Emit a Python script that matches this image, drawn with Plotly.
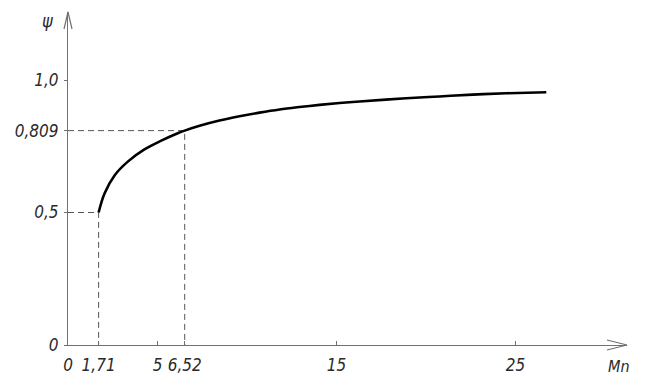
import plotly.graph_objects as go

# ---- data ----
mn = [1.71, 2.04, 2.60, 3.34, 4.27, 5.21, 6.13, 6.52, 7.4, 8.46, 9.58, 10.70, 11.82,
      12.93, 14.05, 15.17, 16.29, 18.89, 20.75, 22.61, 24.48, 26.72]
psi = [0.5, 0.572, 0.640, 0.692, 0.738, 0.771, 0.799, 0.809, 0.828, 0.847, 0.863, 0.877, 0.889,
       0.898, 0.906, 0.913, 0.919, 0.931, 0.938, 0.945, 0.950, 0.954]

x_ticks = [0, 1.71, 5, 6.52, 15, 25]
x_tick_labels = ["0", "1,71", "5", "6,52", "15", "25"]
y_ticks = [0, 0.5, 0.809, 1.0]
y_tick_labels = ["0", "0,5", "0,809", "1,0"]

ref_x = [1.71, 6.52]
ref_y = [0.5, 0.809]

# ---- layout geometry ----
W, H = 656, 386
ml, mr, mt, mb = 68, 29, 12, 41
pw, ph = W - ml - mr, H - mt - mb
x_scale = 17.9   # px per unit
y_scale = 265.0  # px per unit
x_max = pw / x_scale
y_max = ph / y_scale

font_fam = "DejaVu Sans Condensed, Liberation Sans Narrow, DejaVu Sans, sans-serif"
txt_col = "#2a2a2a"
axis_col = "#707070"

fig = go.Figure()

# dashed guide lines from the reference points
for rx, ry in zip(ref_x, ref_y):
    fig.add_trace(go.Scatter(x=[0, rx, rx], y=[ry, ry, 0], mode="lines",
                             line=dict(color="#555555", width=1, dash="6px,4px"),
                             hoverinfo="skip", showlegend=False))

fig.add_trace(go.Scatter(x=mn, y=psi, mode="lines",
                         line=dict(color="black", width=2.6, shape="spline", smoothing=1.0),
                         showlegend=False))

# arrowheads (paper coords, open chevrons)
ax_len, ax_w = 20, 5
shape_line = dict(color=axis_col, width=1.2)
shapes = [
    dict(type="path", xref="paper", yref="paper",
         path=f"M {1 - ax_len/pw},{ax_w/ph} L 1,0 L {1 - ax_len/pw},{-ax_w/ph}", line=shape_line),
    dict(type="path", xref="paper", yref="paper",
         path=f"M {-4/pw},{1 - 17/ph} L 0,1 L {4/pw},{1 - 17/ph}", line=shape_line),
]

annotations = [
    dict(x=-21/pw, y=1 - 8/ph, xref="paper", yref="paper", text="ψ", showarrow=False,
         xanchor="center", yanchor="middle",
         font=dict(family=font_fam, size=18, color=txt_col, style="italic")),
    dict(x=1 - 8/pw, y=-21/ph, xref="paper", yref="paper", text="Mn", showarrow=False,
         xanchor="center", yanchor="middle",
         font=dict(family=font_fam, size=16, color=txt_col, style="italic")),
]

fig.update_layout(
    width=W, height=H,
    margin=dict(l=ml, r=mr, t=mt, b=mb),
    paper_bgcolor="white", plot_bgcolor="white",
    shapes=shapes, annotations=annotations,
    xaxis=dict(range=[0, x_max], showgrid=False, zeroline=False, showline=True, linecolor=axis_col, linewidth=1.2,
               tickmode="array", tickvals=x_ticks, ticktext=x_tick_labels, ticks="inside", ticklen=4,
               tickcolor=axis_col, ticklabelstandoff=4,
               tickfont=dict(family=font_fam, size=17, color=txt_col, style="italic")),
    yaxis=dict(range=[0, y_max], showgrid=False, zeroline=False, showline=True, linecolor=axis_col, linewidth=1.2,
               tickmode="array", tickvals=y_ticks, ticktext=y_tick_labels, ticks="outside", ticklen=3,
               tickcolor=axis_col, ticklabelstandoff=2,
               tickfont=dict(family=font_fam, size=17, color=txt_col, style="italic")),
)

fig.write_html("out.html", config={"displayModeBar": False},
               post_script="document.body.style.margin='0';")
